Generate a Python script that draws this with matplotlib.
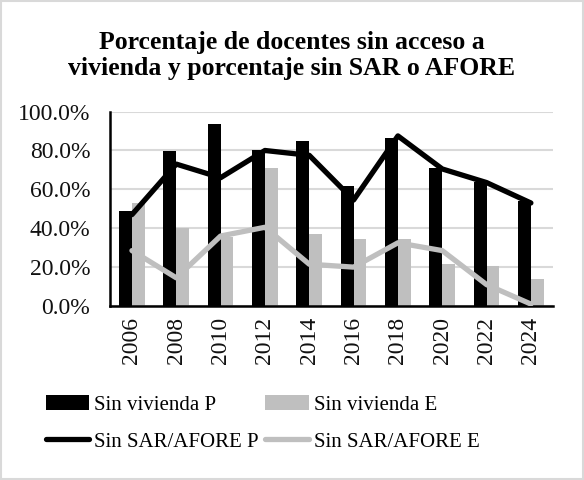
import numpy as np
import matplotlib.pyplot as plt
from matplotlib.patches import Rectangle
from matplotlib.ticker import FuncFormatter

# data
years = ['2006', '2008', '2010', '2012', '2014', '2016', '2018', '2020', '2022', '2024']
viv_p = [49.0, 79.5, 93.5, 80.0, 85.0, 61.5, 86.5, 71.0, 64.0, 54.0]  # Sin vivienda P
viv_e = [53.0, 40.0, 35.5, 71.0, 37.0, 34.5, 34.5, 21.5, 20.5, 14.0]  # Sin vivienda E
sar_p = [47.0, 73.0, 66.0, 80.0, 77.5, 54.5, 87.5, 70.5, 63.5, 53.0]  # Sin SAR/AFORE P
sar_e = [28.5, 14.5, 36.0, 40.5, 21.5, 20.0, 32.5, 28.5, 11.0, 1.0]   # Sin SAR/AFORE E

plt.rcParams['font.family'] = ['Liberation Serif', 'DejaVu Serif']

black = '#000000'
gray = '#bfbfbf'

fig = plt.figure(figsize=(5.84, 4.8), dpi=100)
fig.patches.append(Rectangle((0.002, 0.002), 0.996, 0.996, transform=fig.transFigure,
                             fill=False, edgecolor='#d9d9d9', lw=1.5))
ax = fig.add_axes([0.188, 0.3625, 0.759, 0.405])

x = np.arange(len(years))
w = 0.29
b1 = ax.bar(x - 0.145, viv_p, w, color=black, zorder=2, label='Sin vivienda P')
b2 = ax.bar(x + 0.145, viv_e, w, color=gray, zorder=2, label='Sin vivienda E')
l1, = ax.plot(x, sar_p, color=black, lw=3.8, zorder=3, solid_capstyle='round',
              solid_joinstyle='round', label='Sin SAR/AFORE P')
l2, = ax.plot(x, sar_e, color=gray, lw=3.8, zorder=3, solid_capstyle='round',
              solid_joinstyle='round', label='Sin SAR/AFORE E')

ax.set_xlim(-0.5, len(years) - 0.5)
ax.set_ylim(0, 100)
ax.set_yticks(np.arange(0, 101, 20))
ax.yaxis.set_major_formatter(FuncFormatter(lambda v, p: '%.1f%%' % v))
ax.set_xticks(x)
ax.set_xticklabels(years, rotation=90)
ax.tick_params(axis='both', length=0, labelsize=17, colors='#111111')
ax.tick_params(axis='y', pad=14)
ax.tick_params(axis='x', pad=8)
ax.grid(axis='y', color='#d9d9d9', lw=1.5, zorder=0)
ax.set_axisbelow(True)
for s in ['top', 'right']:
    ax.spines[s].set_visible(False)
ax.spines['left'].set_linewidth(1.8)
ax.spines['bottom'].set_linewidth(1.8)

fig.text(0.5, 0.884, 'Porcentaje de docentes sin acceso a\nvivienda y porcentaje sin SAR o AFORE',
         ha='center', va='center', fontsize=18.5, fontweight='bold', linespacing=1.2)

fig.legend([b1, l1, b2, l2], ['Sin vivienda P', 'Sin SAR/AFORE P', 'Sin vivienda E', 'Sin SAR/AFORE E'],
           ncol=2, loc='center', bbox_to_anchor=(0.45, 0.118), frameon=False, fontsize=15,
           handlelength=2.1, handleheight=0.75, handletextpad=0.25, columnspacing=0.3,
           labelspacing=0.8)

plt.savefig('out.png', dpi=100)
